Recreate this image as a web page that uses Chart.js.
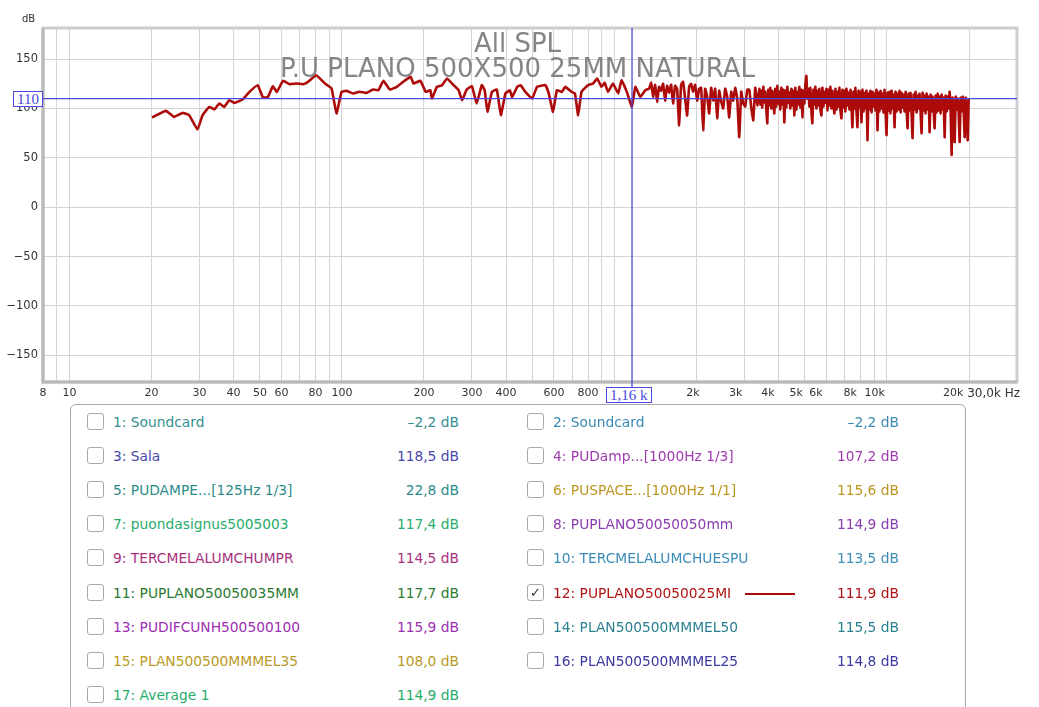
<!DOCTYPE html>
<html>
<head>
<meta charset="utf-8">
<script src="https://cdn.jsdelivr.net/npm/chart.js@4.4.1/dist/chart.umd.min.js"></script>
<style>
  html, body { margin: 0; padding: 0; background: #fff; }
  #wrap { position: relative; width: 1039px; height: 707px; overflow: hidden; font-family: "DejaVu Sans", sans-serif; }
  #spl { position: absolute; left: 0; top: 0; }
  .dbLab { position: absolute; left: 22px; top: 13px; font-size: 10px; color: #333; }
  .ttl { position: absolute; left: 0; width: 1035px; text-align: center; color: #858585; font-size: 26px; line-height: 26px; }
  .cur { position: absolute; background: #fff; border: 1px solid #4a4ae0; color: #4a4ae0;
         font-family: "Liberation Serif", serif; font-size: 15px; line-height: 14px; padding: 0 3px; text-align: center; }
  .xend { position: absolute; right: 19px; top: 386px; font-size: 12px; color: #333; }
  #legend { position: absolute; left: 70px; top: 404px; width: 894px; height: 330px;
            border: 1.5px solid #a9a9a9; border-radius: 6px; }
  .row { position: absolute; width: 372px; height: 18px; font-size: 13.8px; line-height: 18px; }
  .box { position: absolute; left: 0; top: 0; width: 15px; height: 15px; border: 1px solid #a8a8a8;
         border-radius: 3px; background: #fff; font-size: 13px; line-height: 15px; text-align: center; color: #333; }
  .name { position: absolute; left: 26px; top: 0; white-space: nowrap; }
  .lvl { position: absolute; right: 0; top: 0; white-space: nowrap; }
  .swatch { position: absolute; left: 218px; top: 9px; width: 50px; height: 2px; background: #a80c0c; }
</style>
</head>
<body>
<div id="wrap">
  <canvas id="spl" width="1039" height="404"></canvas>
  <div class="dbLab">dB</div>
  <div class="ttl" style="top:30px">All SPL</div>
  <div class="ttl" style="top:55px">P.U PLANO 500X500 25MM NATURAL</div>
  <div class="cur" id="curY">110</div>
  <div class="cur" id="curX">1,16 k</div>
  <div class="xend">30,0k Hz</div>
  <div id="legend"></div>
</div>
<script>
const freqHz = [
  20.1, 22.6, 24.2, 26.0, 27.5, 29.5, 30.8, 32.6, 34.0, 35.5, 37.0, 38.6, 40.3, 43.2, 45.8, 49.1,
  51.3, 53.5, 55.8, 57.7, 60.8, 64.3, 68.1, 72.0, 75.1, 80.5, 86.6, 91.6, 95.5, 99.7,
  104, 110, 116, 123, 130, 136, 142, 150, 159, 171, 179, 183, 194, 203, 211, 214, 223, 233, 243,
  257, 268, 276, 287, 300, 312, 326, 334, 342, 355, 370, 383, 398, 413, 421, 440, 452, 471, 499,
  520, 558, 574, 595, 615, 641, 660, 697, 716, 736, 757, 800, 835, 864, 896, 921, 947, 988,
  1032, 1062, 1110, 1159, 1193, 1244, 1298,
  1340, 1363, 1386, 1410, 1434, 1458, 1483, 1508, 1534, 1560,
  1587, 1614, 1641, 1669, 1698, 1727, 1756, 1786, 1817, 1848,
  1879, 1911, 1944, 1977, 2011, 2045, 2080, 2116, 2152, 2189,
  2226, 2264, 2303, 2342, 2382, 2423, 2464, 2506, 2549, 2593,
  2637, 2682, 2728, 2774, 2822, 2870, 2919, 2969, 3020, 3071,
  3124, 3177, 3231, 3286, 3343,
  3400, 3429, 3458, 3487, 3517, 3547, 3577, 3608, 3638, 3669,
  3700, 3731, 3763, 3795, 3828, 3860, 3893, 3926, 3959, 3993,
  4027, 4061, 4096, 4131, 4166, 4201, 4237, 4273, 4309, 4346,
  4383, 4420, 4458, 4496, 4534, 4573, 4611, 4651, 4690, 4730,
  4770, 4811, 4852, 4893, 4935, 4977, 5019, 5061, 5104, 5148,
  5191, 5235, 5280, 5324, 5370, 5416, 5462, 5508, 5555, 5602,
  5650, 5698, 5747, 5795, 5845, 5895, 5944, 5995, 6046, 6097,
  6149, 6201, 6254, 6307, 6361, 6415, 6469, 6525, 6580, 6636,
  6692, 6749, 6806, 6864, 6923, 6982, 7041, 7101, 7161, 7222,
  7283, 7345, 7408, 7470, 7534, 7598, 7662, 7728, 7793, 7860,
  7927, 7994, 8063, 8131, 8200, 8270, 8340, 8411, 8483, 8555,
  8627, 8700, 8774, 8849, 8925, 9001, 9076, 9154, 9232, 9310,
  9389, 9469, 9550, 9630, 9713, 9796, 9878, 9963, 10047, 10133,
  10218, 10305, 10393, 10481, 10571, 10661, 10750, 10842, 10934, 11027,
  11121, 11216, 11311, 11407, 11505, 11603, 11700, 11801, 11901, 12002,
  12103, 12206, 12310, 12414, 12521, 12627, 12734, 12843, 12952, 13062,
  13172, 13284, 13397, 13511, 13626, 13743, 13858, 13977, 14095, 14215,
  14336, 14458, 14581, 14704, 14831, 14957, 15083, 15212, 15341, 15471,
  15602, 15735, 15869, 16003, 16140, 16278, 16415, 16555, 16696, 16838,
  16980, 17124, 17270, 17416, 17566, 17715, 17865, 18018, 18170, 18325,
  18480, 18637, 18796, 18955, 19118, 19280, 19443, 19610, 19776, 19944
];
const splDb = [
  90.9, 97.6, 91.5, 95.5, 93.2, 78.7, 93.2, 101.6, 99.0, 105.0, 101.6, 108.4, 105.7, 109.1, 116.8, 123.6,
  111.1, 111.7, 122.6, 116.8, 128.0, 124.6, 125.3, 124.6, 127.0, 133.7, 125.3, 120.3, 94.9, 116.8,
  117.8, 115.2, 117.0, 115.8, 119.2, 118.5, 128.0, 119.2, 121.9, 128.7, 132.0, 125.3, 128.0, 116.8, 118.5, 110.1, 121.9, 123.6, 130.4,
  123.6, 118.5, 108.4, 119.2, 122.6, 105.0, 123.6, 118.5, 96.6, 116.8, 119.2, 93.2, 115.2, 118.5, 111.7, 121.9, 123.6, 116.8, 110.1,
  121.9, 123.6, 115.2, 96.6, 118.5, 116.8, 121.9, 116.8, 115.2, 93.2, 116.8, 123.6, 125.3, 130.4, 121.9, 126.0, 116.8, 125.3,
  115.2, 128.7, 116.8, 101.6, 121.9, 111.7, 118.5,
  120, 126, 112, 124, 107, 122, 118, 125, 108, 123,
  116, 124, 105, 123, 120, 83, 124, 127, 110, 93,
  122, 125, 117, 124, 108, 120, 121, 78, 120, 112,
  95, 121, 108, 120, 90, 118, 107, 100, 120, 112,
  91, 117, 108, 121, 110, 71, 117, 105, 102, 119,
  119, 101, 88, 121, 103,
  120, 104, 118, 101, 122, 106, 117, 99, 85, 119,
  103, 121, 100, 118, 107, 95, 120, 102, 123, 105,
  117, 99, 121, 104, 119, 86, 118, 101, 122, 106,
  116, 100, 120, 103, 118, 93, 121, 99, 117, 104,
  122, 101, 119, 91, 118, 105, 124, 133, 110, 120,
  102, 121, 98, 85, 119, 104, 122, 100, 118, 103,
  120, 99, 93, 121, 102, 117, 106, 120, 98, 119,
  103, 122, 100, 118, 104, 95, 120, 99, 117, 102,
  121, 98, 90, 119, 101, 118, 97, 120, 103, 116,
  99, 119, 102, 81, 117, 100, 121, 98, 81, 118,
  101, 117, 86, 119, 97, 116, 100, 118, 68, 115,
  99, 118, 96, 117, 102, 115, 98, 119, 78, 116,
  97, 118, 100, 115, 96, 119, 99, 73, 116, 98,
  117, 95, 118, 100, 114, 81, 117, 97, 115, 99,
  118, 96, 116, 101, 114, 97, 117, 99, 80, 115,
  98, 116, 95, 70, 114, 99, 117, 96, 113, 100,
  115, 97, 75, 116, 98, 113, 95, 115, 99, 112,
  76, 114, 97, 112, 100, 80, 113, 96, 115, 98,
  112, 95, 114, 99, 111, 71, 113, 97, 112, 100,
  117, 98, 53, 111, 96, 66, 112, 99, 110, 95,
  66, 111, 97, 112, 98, 71, 111, 96, 68, 110
];

const xGrid = [8, 9, 10, 20, 30, 40, 50, 60, 70, 80, 90, 100, 200, 300, 400, 500, 600, 700, 800, 900,
  1000, 2000, 3000, 4000, 5000, 6000, 7000, 8000, 9000, 10000, 20000, 30000];
const xLabels = { 8: '8', 10: '10', 20: '20', 30: '30', 40: '40', 50: '50', 60: '60', 80: '80',
  100: '100', 200: '200', 300: '300', 400: '400', 600: '600', 800: '800',
  2000: '2k  ', 3000: '3k     ', 4000: '4k      ', 5000: '5k     ', 6000: '6k      ',
  8000: '8k      ', 10000: '10k       ', 20000: '20k         ' };
const yTicks = [-150, -100, -50, 0, 50, 100, 150];

const cursorHz = 1160;
const cursorDb = 110;

const traceNames = ['1: Soundcard', '2: Soundcard', '3: Sala', '4: PUDamp...[1000Hz 1/3]',
  '5: PUDAMPE...[125Hz 1/3]', '6: PUSPACE...[1000Hz 1/1]', '7: puondasignus5005003', '8: PUPLANO50050050mm',
  '9: TERCMELALUMCHUMPR', '10: TERCMELALUMCHUESPU', '11: PUPLANO50050035MM', '12: PUPLANO50050025MI',
  '13: PUDIFCUNH500500100', '14: PLAN500500MMMEL50', '15: PLAN500500MMMEL35', '16: PLAN500500MMMEL25',
  '17: Average 1'];
const traceLevels = ['–2,2 dB', '–2,2 dB', '118,5 dB', '107,2 dB', '22,8 dB', '115,6 dB', '117,4 dB',
  '114,9 dB', '114,5 dB', '113,5 dB', '117,7 dB', '111,9 dB', '115,9 dB', '115,5 dB', '108,0 dB',
  '114,8 dB', '114,9 dB'];
const traceColors = ['#348f8f', '#3a88b4', '#4848a8', '#a03cb0', '#2c8c88', '#bb951f', '#26ad6c',
  '#8a3cb0', '#a8307c', '#3a8cb8', '#2a7a30', '#b01414', '#9c30b0', '#2a8090', '#b89a28', '#3a3aa0', '#26ad6c'];
const shown = 11;

// legend panel
const legend = document.getElementById('legend');
traceNames.forEach((name, i) => {
  const col = i % 2, row = Math.floor(i / 2);
  const el = document.createElement('div');
  el.className = 'row';
  el.style.left = (col ? 456 : 16) + 'px';
  el.style.top = (18 + row * 34.1 - 10) + 'px';
  el.style.color = traceColors[i];
  el.innerHTML = `<span class="box">${i === shown ? '✓' : ''}</span>
    <span class="name">${name}</span>
    ${i === shown ? '<span class="swatch"></span>' : ''}
    <span class="lvl">${traceLevels[i]}</span>`;
  legend.appendChild(el);
});

const overlay = {
  id: 'overlay',
  afterDraw(chart) {
    const { ctx, chartArea: a, scales: { x, y } } = chart;
    const cx = x.getPixelForValue(cursorHz), cy = y.getPixelForValue(cursorDb);
    ctx.save();
    ctx.strokeStyle = '#cdcdcd'; ctx.lineWidth = 3;
    ctx.strokeRect(a.left, a.top, a.right - a.left, a.bottom - a.top);
    ctx.strokeStyle = '#b8b8b8';
    ctx.beginPath();
    ctx.moveTo(a.left, a.top); ctx.lineTo(a.left, a.bottom); ctx.lineTo(a.right, a.bottom);
    ctx.stroke();
    ctx.strokeStyle = '#4a4ae0'; ctx.lineWidth = 1.3;
    ctx.beginPath();
    ctx.moveTo(a.left, cy); ctx.lineTo(a.right, cy);
    ctx.moveTo(cx, a.top); ctx.lineTo(cx, a.bottom + 5);
    ctx.stroke();
    ctx.restore();
    const bx = document.getElementById('curX');
    bx.style.left = (cx - bx.offsetWidth / 2 - 3) + 'px';
    bx.style.top = (a.bottom + 5) + 'px';
    const by = document.getElementById('curY');
    by.style.left = (a.left - by.offsetWidth) + 'px';
    by.style.top = (cy - by.offsetHeight / 2) + 'px';
  }
};

new Chart(document.getElementById('spl').getContext('2d'), {
  type: 'line',
  data: {
    datasets: [{
      data: freqHz.map((f, i) => ({ x: f, y: splDb[i] })),
      borderColor: '#ad0a0a',
      borderWidth: 2.6,
      pointRadius: 0,
      tension: 0.1,
    }],
  },
  options: {
    responsive: false,
    animation: false,
    layout: { padding: { top: 28, right: 22, left: 0, bottom: 0 } },
    plugins: { legend: { display: false }, tooltip: { enabled: false } },
    scales: {
      x: {
        type: 'logarithmic', min: 8, max: 30000,
        afterBuildTicks: s => { s.ticks = xGrid.map(v => ({ value: v })); },
        afterFit: s => { s.height = 22; },
        ticks: {
          autoSkip: false, maxRotation: 0, padding: 5, color: '#333',
          font: { family: 'DejaVu Sans', size: 11 },
          callback: v => xLabels[v] || '',
        },
        grid: { color: '#d4d4d4', drawTicks: false },
        border: { display: false },
      },
      y: {
        min: -177, max: 181.5,
        afterBuildTicks: s => { s.ticks = yTicks.map(v => ({ value: v })); },
        afterFit: s => { s.width = 43; },
        ticks: {
          padding: 5, color: '#333', font: { family: 'DejaVu Sans', size: 11.5 },
          callback: v => v < 0 ? '−' + (-v) : String(v),
        },
        grid: { color: '#d4d4d4', drawTicks: false },
        border: { display: false },
      },
    },
  },
  plugins: [overlay],
});
</script>
</body>
</html>
